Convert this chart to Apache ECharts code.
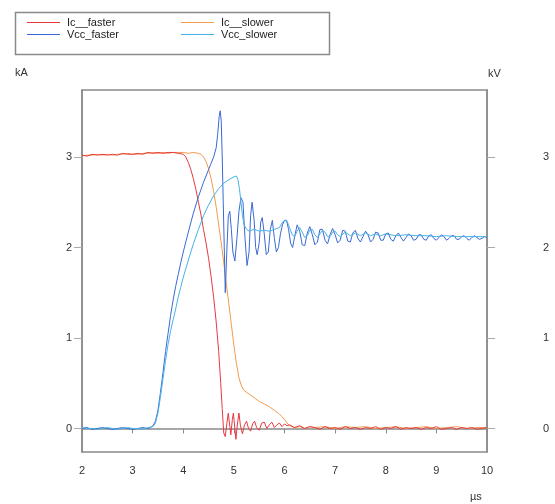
<!DOCTYPE html>
<html>
<head>
<meta charset="utf-8">
<script src="https://cdn.jsdelivr.net/npm/echarts@6/dist/echarts.min.js"></script>
<style>html,body{margin:0;padding:0;background:#fff}#c{width:555px;height:504px}</style>
</head>
<body>
<div id="c"></div>
<script>
// ---- data (x in µs, y in kA / kV) ----
var seriesNames = ['Ic__faster', 'Ic__slower', 'Vcc_faster', 'Vcc_slower'];
var xTicks = [2, 3, 4, 5, 6, 7, 8, 9, 10];
var yTicks = [0, 1, 2, 3];

var icFaster = [
[2.0,3.02],[2.1,3.01],[2.2,3.03],[2.3,3.02],[2.4,3.03],[2.5,3.02],[2.6,3.03],[2.7,3.02],[2.8,3.04],[2.9,3.03],
[3.0,3.03],[3.1,3.04],[3.2,3.03],[3.3,3.05],[3.4,3.04],[3.5,3.05],[3.6,3.04],[3.7,3.05],[3.8,3.05],[3.9,3.04],
[4.0,3.03],[4.05,3.0],[4.1,2.94],[4.15,2.86],[4.2,2.76],[4.25,2.64],[4.3,2.5],[4.35,2.36],[4.4,2.2],[4.45,2.05],
[4.5,1.88],[4.55,1.68],[4.6,1.45],[4.65,1.18],[4.7,0.85],[4.74,0.5],[4.77,0.22],[4.8,-0.05],[4.83,-0.09],[4.86,0.05],
[4.89,0.17],[4.92,0.02],[4.94,-0.07],[4.97,0.1],[4.99,0.17],[5.02,0.0],[5.04,-0.12],[5.07,0.05],[5.1,0.17],[5.13,0.03],
[5.17,-0.06],[5.21,0.04],[5.25,0.08],[5.29,0.0],[5.33,-0.03],[5.37,0.05],[5.41,0.08],[5.45,0.01],[5.5,-0.02],[5.55,0.06],
[5.6,0.07],[5.65,0.0],[5.7,0.04],[5.75,0.07],[5.8,0.01],[5.85,0.04],[5.9,0.06],[5.95,0.02],[6.0,0.05],[6.05,0.03],
[6.1,0.04],[6.2,0.01],[6.3,0.03],[6.4,0.0],[6.5,0.02],[6.6,0.01],[6.7,-0.01],[6.8,0.02],[6.9,0.0],
[7.0,0.01],[7.1,-0.01],[7.2,0.02],[7.3,0.0],[7.4,0.01],[7.5,-0.01],[7.6,0.01],[7.7,0.0],[7.8,0.02],[7.9,-0.01],
[8.0,0.01],[8.1,0.0],[8.2,0.02],[8.3,-0.01],[8.4,0.01],[8.5,0.0],[8.6,0.01],[8.7,-0.01],[8.8,0.01],[8.9,0.0],
[9.0,0.02],[9.1,-0.01],[9.2,0.0],[9.3,0.01],[9.4,-0.01],[9.5,0.01],[9.6,0.0],[9.7,0.01],[9.8,-0.01],[9.9,0.0],[10.0,0.01]
];

var icSlower = [
[2.0,3.01],[2.1,3.02],[2.2,3.02],[2.3,3.03],[2.4,3.02],[2.5,3.03],[2.6,3.02],[2.7,3.03],[2.8,3.03],[2.9,3.04],
[3.0,3.03],[3.1,3.03],[3.2,3.04],[3.3,3.04],[3.4,3.05],[3.5,3.04],[3.6,3.05],[3.7,3.04],[3.8,3.05],[3.9,3.05],
[4.0,3.05],[4.1,3.04],[4.2,3.05],[4.3,3.04],[4.35,3.03],[4.4,3.0],[4.45,2.95],[4.5,2.87],[4.55,2.76],[4.6,2.62],
[4.65,2.45],[4.7,2.25],[4.75,2.05],[4.8,1.83],[4.85,1.6],[4.9,1.38],[4.95,1.15],[5.0,0.92],[5.05,0.72],[5.1,0.56],
[5.15,0.47],[5.2,0.42],[5.3,0.38],[5.4,0.34],[5.5,0.3],[5.6,0.27],[5.7,0.24],[5.8,0.2],[5.9,0.16],[5.95,0.13],
[6.0,0.1],[6.05,0.06],[6.1,0.03],[6.2,0.01],[6.3,0.02],[6.4,0.0],[6.5,0.02],[6.6,0.01],[6.8,0.02],[7.0,0.0],
[7.2,0.02],[7.4,0.01],[7.6,0.02],[7.8,0.0],[8.0,0.01],[8.2,0.02],[8.4,0.0],[8.6,0.01],[8.8,0.02],[9.0,0.0],
[9.2,0.01],[9.4,0.02],[9.6,0.0],[9.8,0.01],[10.0,0.01]
];

var vccFaster = [
[2.0,0.0],[2.1,0.01],[2.2,-0.01],[2.3,0.0],[2.4,0.01],[2.5,0.0],[2.6,-0.01],[2.7,0.0],[2.8,0.01],[2.9,0.0],
[3.0,-0.01],[3.1,0.0],[3.2,0.01],[3.3,0.0],[3.35,0.01],[3.4,0.03],[3.45,0.08],[3.5,0.2],[3.55,0.4],[3.6,0.62],
[3.65,0.85],[3.7,1.05],[3.75,1.25],[3.8,1.42],[3.85,1.57],[3.9,1.7],[3.95,1.83],[4.0,1.95],[4.1,2.17],[4.2,2.38],
[4.3,2.56],[4.4,2.72],[4.5,2.86],[4.55,2.93],[4.6,3.0],[4.65,3.1],[4.68,3.25],[4.71,3.45],[4.73,3.51],[4.75,3.4],
[4.77,3.0],[4.79,2.5],[4.81,2.0],[4.83,1.5],[4.86,1.95],[4.89,2.35],[4.92,2.4],[4.95,2.2],[4.98,1.95],[5.02,1.85],
[5.06,2.1],[5.1,2.4],[5.14,2.55],[5.18,2.5],[5.22,2.1],[5.26,1.8],[5.3,1.95],[5.33,2.35],[5.36,2.5],[5.4,2.3],
[5.43,2.0],[5.46,1.92],[5.5,2.05],[5.53,2.28],[5.56,2.33],[5.6,2.15],[5.64,1.92],[5.68,1.95],[5.72,2.2],[5.76,2.3],
[5.8,2.1],[5.84,1.95],[5.88,2.0],[5.92,2.15],[5.96,2.25],[6.0,2.3],[6.04,2.3],[6.08,2.2],[6.12,2.05],[6.16,2.0],
[6.2,2.12],[6.25,2.25],[6.3,2.18],[6.35,2.03],[6.4,2.02],[6.45,2.16],[6.5,2.23],[6.55,2.14],[6.6,2.03],[6.65,2.06],
[6.7,2.2],[6.75,2.2],[6.8,2.08],[6.85,2.04],[6.9,2.14],[6.95,2.21],[7.0,2.14],[7.05,2.05],[7.1,2.08],[7.15,2.19],
[7.2,2.18],[7.25,2.07],[7.3,2.06],[7.35,2.16],[7.4,2.19],[7.45,2.1],[7.5,2.06],[7.55,2.12],[7.6,2.18],[7.65,2.14],
[7.7,2.06],[7.75,2.09],[7.8,2.17],[7.85,2.16],[7.9,2.08],[7.95,2.08],[8.0,2.15],[8.05,2.16],[8.1,2.09],[8.15,2.07],
[8.2,2.13],[8.25,2.16],[8.3,2.11],[8.35,2.07],[8.4,2.11],[8.45,2.15],[8.5,2.13],[8.55,2.08],[8.6,2.09],[8.65,2.14],
[8.7,2.14],[8.75,2.09],[8.8,2.08],[8.85,2.13],[8.9,2.14],[8.95,2.1],[9.0,2.08],[9.05,2.11],[9.1,2.14],[9.15,2.12],
[9.2,2.08],[9.25,2.1],[9.3,2.13],[9.35,2.13],[9.4,2.09],[9.45,2.09],[9.5,2.12],[9.55,2.13],[9.6,2.1],[9.65,2.08],
[9.7,2.11],[9.75,2.13],[9.8,2.11],[9.85,2.09],[9.9,2.1],[9.95,2.12],[10.0,2.11]
];

var vccSlower = [
[2.0,0.01],[2.1,0.0],[2.2,0.0],[2.3,-0.01],[2.4,0.0],[2.5,0.01],[2.6,0.0],[2.7,-0.01],[2.8,0.0],[2.9,0.01],
[3.0,0.0],[3.1,0.0],[3.2,-0.01],[3.3,0.01],[3.4,0.02],[3.45,0.06],[3.5,0.17],[3.55,0.35],[3.6,0.55],[3.65,0.75],
[3.7,0.93],[3.75,1.08],[3.8,1.2],[3.85,1.32],[3.9,1.45],[3.95,1.56],[4.0,1.67],[4.1,1.86],[4.2,2.04],[4.3,2.2],
[4.4,2.35],[4.5,2.47],[4.6,2.57],[4.7,2.65],[4.8,2.71],[4.9,2.75],[5.0,2.78],[5.05,2.79],[5.08,2.75],[5.11,2.65],
[5.14,2.5],[5.17,2.35],[5.2,2.25],[5.25,2.2],[5.3,2.18],[5.4,2.2],[5.5,2.18],[5.6,2.19],[5.7,2.18],[5.8,2.2],
[5.9,2.22],[5.95,2.27],[6.0,2.3],[6.05,2.29],[6.1,2.22],[6.15,2.14],[6.2,2.12],[6.25,2.18],[6.3,2.22],[6.35,2.17],
[6.4,2.11],[6.45,2.13],[6.5,2.19],[6.55,2.2],[6.6,2.14],[6.65,2.11],[6.7,2.15],[6.75,2.19],[6.8,2.17],[6.85,2.12],
[6.9,2.12],[6.95,2.17],[7.0,2.18],[7.05,2.14],[7.1,2.12],[7.2,2.17],[7.3,2.13],[7.4,2.16],[7.5,2.13],[7.6,2.16],
[7.7,2.13],[7.8,2.15],[7.9,2.13],[8.0,2.15],[8.2,2.13],[8.4,2.14],[8.6,2.13],[8.8,2.13],[9.0,2.12],[9.2,2.13],
[9.4,2.12],[9.6,2.12],[9.8,2.12],[10.0,2.12]
];

var colors = {
  'Ic__faster': '#e6393f',
  'Ic__slower': '#f29a4c',
  'Vcc_faster': '#3a69d4',
  'Vcc_slower': '#45b2e6'
};

var chart = echarts.init(document.getElementById('c'), null, {renderer: 'canvas'});
var font = 'Liberation Sans, Arial, sans-serif';
var axisColor = '#8a8a8a';

function mkLine(name, data) {
  return {
    name: name, type: 'line', data: data, showSymbol: false, symbol: 'none',
    lineStyle: {width: 1, color: colors[name]}, itemStyle: {color: colors[name]},
    animation: false
  };
}

var yAxisBase = {
  type: 'value', min: -0.26, max: 3.74,
  splitLine: {show: false},
  axisLine: {show: true, lineStyle: {color: axisColor, width: 1.5}},
  axisTick: {show: true, length: 8, customValues: yTicks, lineStyle: {color: '#aaa'}},
  axisLabel: {customValues: yTicks, color: '#333', fontSize: 11, fontFamily: font}
};

var legendBase = {
  orient: 'vertical', icon: 'rect', itemWidth: 33, itemHeight: 1, itemGap: 1,
  textStyle: {fontSize: 11, color: '#222', fontFamily: font, padding: [0, 0, 0, 2]}
};

chart.setOption({
  animation: false,
  textStyle: {fontFamily: font},
  grid: {left: 82, right: 68, top: 90, bottom: 52, show: true, borderColor: axisColor, borderWidth: 1.5},
  legend: [
    Object.assign({}, legendBase, {left: 22, top: 12, data: ['Ic__faster', 'Vcc_faster']}),
    Object.assign({}, legendBase, {left: 176, top: 12, data: ['Ic__slower', 'Vcc_slower']})
  ],
  xAxis: {
    type: 'value', min: 2, max: 10, interval: 1,
    splitLine: {show: false},
    axisLine: {show: true, lineStyle: {color: axisColor, width: 1.5}},
    axisTick: {show: true, length: 5, lineStyle: {color: axisColor}},
    axisLabel: {color: '#333', fontSize: 11, margin: 13, fontFamily: font}
  },
  yAxis: [
    Object.assign({}, yAxisBase, {position: 'left',
      axisLabel: Object.assign({}, yAxisBase.axisLabel, {margin: 10})}),
    Object.assign({}, yAxisBase, {position: 'right',
      axisLabel: Object.assign({}, yAxisBase.axisLabel, {margin: 56})})
  ],
  graphic: [
    {type: 'rect', left: 13, top: 10, shape: {width: 314, height: 42},
     style: {fill: 'none', stroke: '#8a8a8a', lineWidth: 1.5}, silent: true},
    {type: 'text', left: 15, top: 67, style: {text: 'kA', fill: '#333', font: '11px ' + font}},
    {type: 'text', left: 488, top: 68, style: {text: 'kV', fill: '#333', font: '11px ' + font}},
    {type: 'text', left: 470, top: 491, style: {text: 'µs', fill: '#333', font: '11px ' + font}}
  ],
  series: [
    mkLine('Ic__slower', icSlower),
    mkLine('Ic__faster', icFaster),
    mkLine('Vcc_faster', vccFaster),
    mkLine('Vcc_slower', vccSlower)
  ]
});
</script>
</body>
</html>
